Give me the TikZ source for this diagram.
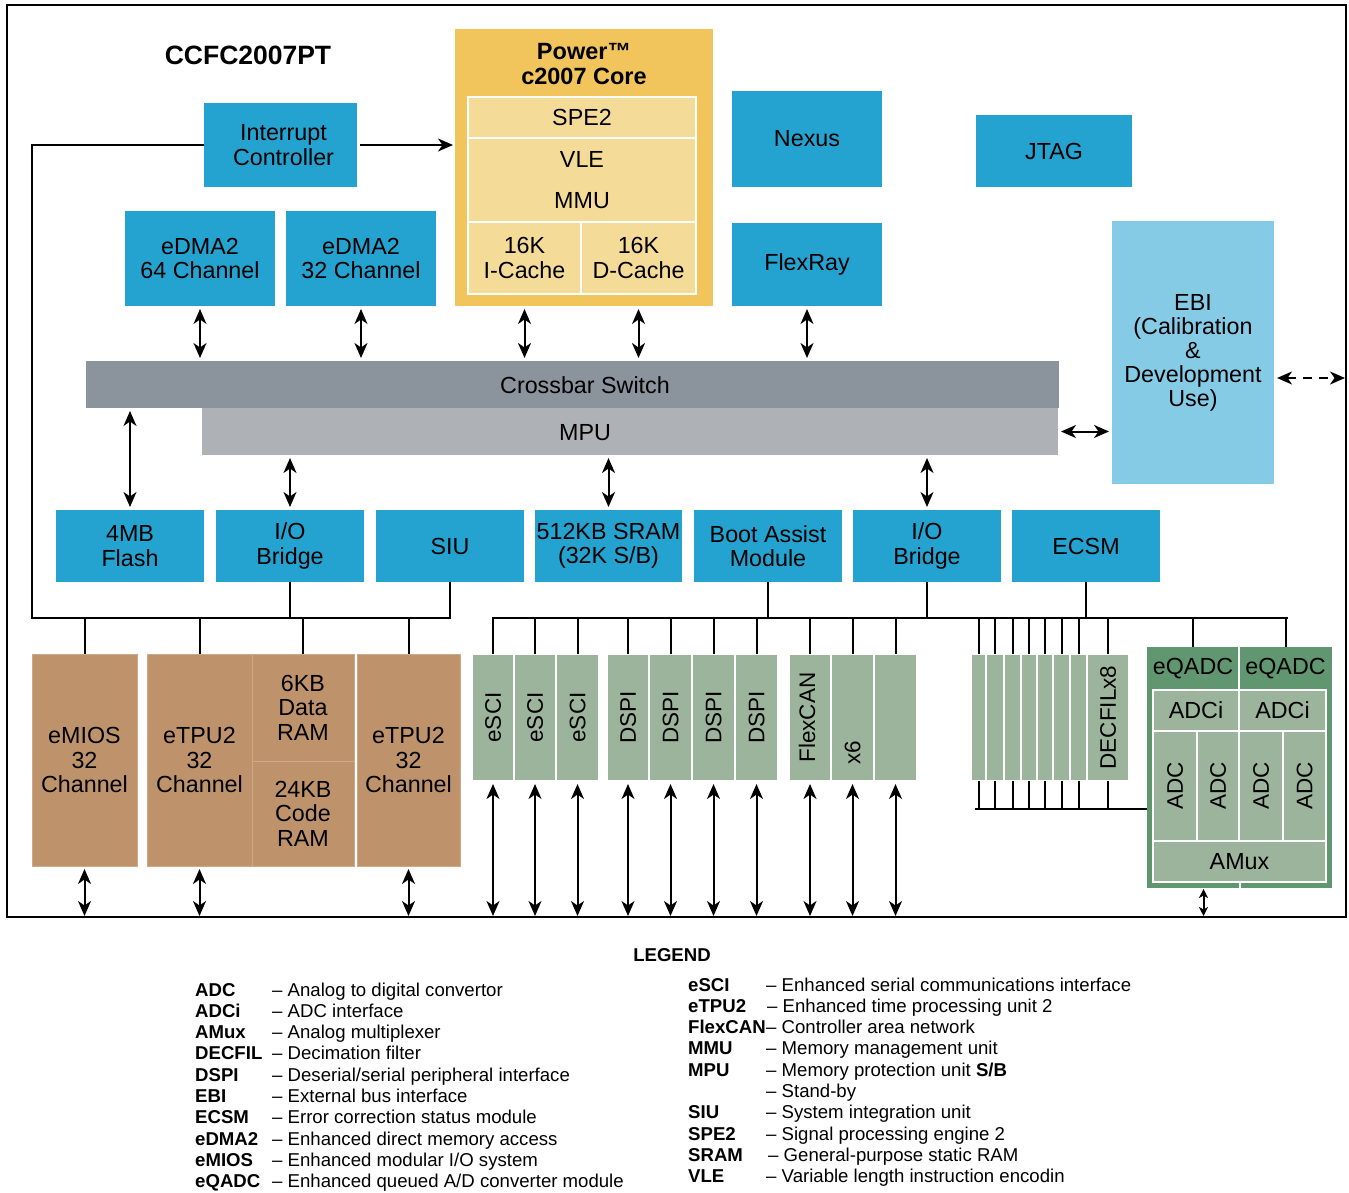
\documentclass[tikz,border=0pt]{standalone}
\usepackage{fontspec}
\setmainfont{Liberation Sans}
\usetikzlibrary{arrows.meta}
\definecolor{cblue}{HTML}{25A3D0}
\definecolor{cebi}{HTML}{86CBE6}
\definecolor{cgold}{HTML}{F2C55C}
\definecolor{ccore}{HTML}{F4DB98}
\definecolor{cxbar}{HTML}{8B939C}
\definecolor{cmpu}{HTML}{AEB1B5}
\definecolor{cbrown}{HTML}{BE936B}
\definecolor{cbrownl}{HTML}{CDA987}
\definecolor{cgreen}{HTML}{9BB49B}
\definecolor{cdgreen}{HTML}{609670}
\newcommand\bx[7]{\node[#6, anchor=north west, minimum width={(#4)-(#2)}, minimum height={(#5)-(#3)}] (#1) at (#2,#3) {#7};}
\newcommand\lgL[2]{\makebox[77pt][l]{\bfseries #1}#2}
\newcommand\lgR[3][78pt]{\makebox[#1][l]{\bfseries #2}#3}
\tikzset{
  basebox/.style={inner sep=0pt, outer sep=0pt, align=center, font=\fontsize{23.3}{24.5}\selectfont},
  bluebox/.style={basebox, fill=cblue},
  ebibox/.style={basebox, fill=cebi, font=\fontsize{23.3}{24}\selectfont},
  corebox/.style={basebox, fill=cgold},
  innerbox/.style={basebox, fill=ccore, draw=white, line width=2pt},
  xbarbox/.style={basebox, fill=cxbar},
  mpubox/.style={basebox, fill=cmpu},
  brownbox/.style={basebox, fill=cbrown, draw=cbrownl, line width=1pt},
  greenbox/.style={basebox, fill=cgreen, draw=white, line width=2.5pt},
  qbox/.style={basebox, fill=cdgreen},
  qin/.style={basebox, fill=cgreen, draw=white, line width=2pt},
  plainbox/.style={basebox},
  rottext/.style={rotate=90, inner sep=0pt, font=\fontsize{22.5}{24}\selectfont},
  ah/.tip={Stealth[length=15pt,width=13pt,inset=4.5pt]},
  sah/.tip={Stealth[length=9pt,width=9pt,inset=2.5pt]},
  dbl/.style={line width=2pt, ah-ah, shorten <=3pt, shorten >=3pt},
  sgl/.style={line width=2pt, -ah, shorten <=3pt, shorten >=2pt},
  bus/.style={line width=2pt},
  wline/.style={draw=white, line width=2pt},
  lg/.style={font=\fontsize{18.6}{21.3}\selectfont, anchor=base west, inner sep=0pt},
}
\begin{document}
\begin{tikzpicture}[x=1pt,y=-1pt]
\useasboundingbox (0,0) rectangle (1349,1193);
% frame
\node[draw, line width=2.4pt, anchor=north west, minimum width=1339, minimum height=912, inner sep=0pt, outer sep=0pt] (frame) at (7,5) {};
\node[inner sep=0pt, font=\fontsize{26.5}{28}\selectfont\bfseries] (title) at (248,55) {CCFC2007PT};

% top blocks
\bx{intc}{204}{103}{357}{187}{bluebox}{\hspace*{6pt}Interrupt\\\hspace*{6pt}Controller}
\bx{edmaA}{125}{211}{275}{306}{bluebox}{eDMA2\\64 Channel}
\bx{edmaB}{286}{211}{436}{306}{bluebox}{eDMA2\\32 Channel}
\bx{core}{455}{29}{713}{306}{corebox}{}
\node[inner sep=0pt, align=center, font=\fontsize{23.5}{24.5}\selectfont\bfseries] (coretitle) at (584,64) {Power™\\c2007 Core};
\bx{spe}{468}{97}{696}{138}{innerbox}{SPE2}
\bx{vlemmu}{468}{138}{696}{222}{innerbox}{VLE\\[16.5pt]MMU}
\bx{icache}{468}{222}{581}{294}{innerbox}{16K\\I-Cache}
\bx{dcache}{581}{222}{696}{294}{innerbox}{16K\\D-Cache}
\bx{nexus}{732}{91}{882}{187}{bluebox}{Nexus}
\bx{flexray}{732}{223}{882}{306}{bluebox}{FlexRay}
\bx{jtag}{976}{115}{1132}{187}{bluebox}{JTAG}
\bx{ebi}{1112}{221}{1274}{484}{ebibox}{EBI\\(Calibration\\\&\\Development\\Use)}

% crossbar / MPU
\bx{xbar}{86}{361}{1059}{408}{xbarbox}{}
\bx{mpu}{202}{408}{1058}{455}{mpubox}{}
\node[basebox] (xbartxt) at (585,385) {Crossbar Switch};
\node[basebox] (mputxt) at (585,433) {MPU};

% second row
\bx{flash}{56}{510}{204}{582}{bluebox}{4MB\\Flash}
\bx{iobA}{216}{510}{364}{582}{bluebox}{I/O\\Bridge}
\bx{siu}{376}{510}{524}{582}{bluebox}{SIU}
\bx{sram}{535}{510}{682}{582}{bluebox}{512KB SRAM\\(32K S/B)}
\bx{boot}{694}{510}{842}{582}{bluebox}{Boot Assist\\Module}
\bx{iobB}{853}{510}{1001}{582}{bluebox}{I/O\\Bridge}
\bx{ecsm}{1012}{510}{1160}{582}{bluebox}{ECSM}

% brown peripherals
\bx{emios}{32}{654}{137}{866}{brownbox}{eMIOS\\32\\Channel}
\bx{etpuA}{147}{654}{252}{866}{brownbox}{eTPU2\\32\\Channel}
\bx{dram}{252}{654}{354}{761}{brownbox}{6KB\\Data\\RAM}
\bx{cram}{252}{761}{354}{866}{brownbox}{24KB\\Code\\RAM}
\bx{etpuB}{357}{654}{460}{866}{brownbox}{eTPU2\\32\\Channel}

% green peripherals
\bx{esciA}{472}{654}{514}{781}{greenbox}{}
\bx{esciB}{514}{654}{556}{781}{greenbox}{}
\bx{esciC}{556}{654}{599}{781}{greenbox}{}
\bx{dspiA}{607}{654}{649}{781}{greenbox}{}
\bx{dspiB}{649}{654}{692}{781}{greenbox}{}
\bx{dspiC}{692}{654}{735}{781}{greenbox}{}
\bx{dspiD}{735}{654}{778}{781}{greenbox}{}
\bx{fcanA}{789}{654}{831}{781}{greenbox}{}
\bx{fcanB}{831}{654}{874}{781}{greenbox}{}
\bx{fcanC}{874}{654}{917}{781}{greenbox}{}
\node[rottext] (tesciA) at (esciA.center) {eSCI};
\node[rottext] (tesciB) at (esciB.center) {eSCI};
\node[rottext] (tesciC) at (esciC.center) {eSCI};
\node[rottext] (tdspiA) at (dspiA.center) {DSPI};
\node[rottext] (tdspiB) at (dspiB.center) {DSPI};
\node[rottext] (tdspiC) at (dspiC.center) {DSPI};
\node[rottext] (tdspiD) at (dspiD.center) {DSPI};
\node[rottext] (tfcan) at ([xshift=-3pt]fcanA.center) {FlexCAN};
\node[rottext] (tx6) at ([yshift=-35.5pt]fcanB.center) {x6};

% decimation filters
\bx{dfA}{971}{654}{986}{781}{greenbox}{}
\bx{dfB}{986}{654}{1004}{781}{greenbox}{}
\bx{dfC}{1004}{654}{1021}{781}{greenbox}{}
\bx{dfD}{1021}{654}{1037}{781}{greenbox}{}
\bx{dfE}{1037}{654}{1053}{781}{greenbox}{}
\bx{dfF}{1053}{654}{1070}{781}{greenbox}{}
\bx{dfG}{1070}{654}{1087}{781}{greenbox}{}
\bx{dfH}{1087}{654}{1129}{781}{greenbox}{}
\node[rottext] (tdfH) at (dfH.center) {DECFILx8};

% eQADC block
\bx{eqadc}{1147}{647}{1332}{888}{qbox}{}
\bx{eqa}{1147}{647}{1239}{690}{plainbox}{eQADC}
\bx{eqb}{1239}{647}{1332}{690}{plainbox}{eQADC}
\bx{adciA}{1153}{690}{1239}{731}{qin}{ADCi}
\bx{adciB}{1239}{690}{1326}{731}{qin}{ADCi}
\bx{adcA}{1153}{731}{1197}{841}{qin}{}
\bx{adcB}{1197}{731}{1239}{841}{qin}{}
\bx{adcC}{1239}{731}{1283}{841}{qin}{}
\bx{adcD}{1283}{731}{1326}{841}{qin}{}
\bx{amux}{1153}{841}{1326}{882}{qin}{AMux}
\node[rottext] (tadcA) at (adcA.center) {ADC};
\node[rottext] (tadcB) at (adcB.center) {ADC};
\node[rottext] (tadcC) at (adcC.center) {ADC};
\node[rottext] (tadcD) at (adcD.center) {ADC};
\draw[wline] (eqa.north east) -- (eqa.south east);
\draw[wline] (amux.south) -- (amux.south |- eqadc.south);

% ---- connectors to crossbar
\draw[dbl] (edmaA.south) -- (edmaA.south |- xbar.north);
\draw[dbl] (edmaB.south) -- (edmaB.south |- xbar.north);
\draw[dbl] (icache.south |- core.south) -- (icache.south |- xbar.north);
\draw[dbl] (dcache.south |- core.south) -- (dcache.south |- xbar.north);
\draw[dbl] (flexray.south) -- (flexray.south |- xbar.north);
\draw[dbl] (flash.north |- xbar.south) -- (flash.north);
\draw[dbl] (iobA.north |- mpu.south) -- (iobA.north);
\draw[dbl] (sram.north |- mpu.south) -- (sram.north);
\draw[dbl] (iobB.north |- mpu.south) -- (iobB.north);
\draw[dbl] (mpu.east) -- (mpu.east -| ebi.west);
\coordinate (ebiio) at (1274,378);
\draw[dbl, dash pattern=on 9pt off 7pt, shorten >=1pt] (ebiio) -- (ebiio -| frame.east);

% interrupt controller
\coordinate (intL) at (32,145);
\coordinate (busL) at (32,618);
\draw[sgl] (intc.east) -- (intc.east -| core.west);
\draw[bus] (intc.west) -- (intL) -- (busL) -- (busL -| siu.south) -- (siu.south);
\draw[bus] (iobA.south) -- (iobA.south |- busL);
\foreach \n in {emios,etpuA,dram,etpuB}
  \draw[bus] (\n.north) -- (\n.north |- busL);
\foreach \n in {emios,etpuA,etpuB}
  \draw[dbl, shorten >=1pt] (\n.south) -- (\n.south |- frame.south);

% right peripheral bus
\coordinate (busR0) at (492,618);
\coordinate (busR1) at (1288,618);
\draw[bus] (busR0) -- (busR1);
\foreach \n in {boot,iobB,ecsm}
  \draw[bus] (\n.south) -- (\n.south |- busR0);
\foreach \n in {esciA,esciB,esciC,dspiA,dspiB,dspiC,dspiD,fcanA,fcanB,fcanC}{
  \draw[bus] (\n.north) -- (\n.north |- busR0);
  \draw[dbl, shorten >=1pt] (\n.south) -- (\n.south |- frame.south);
}
\coordinate (busD) at (975,809);
\draw[bus] (busD) -- (busD -| eqadc.west);
\foreach \n in {dfA,dfB,dfC,dfD,dfE,dfF,dfG,dfH}{
  \draw[bus] (\n.north) -- (\n.north |- busR0);
  \draw[bus] (\n.south) -- (\n.south |- busD);
}
\draw[bus] (eqa.north) -- (eqa.north |- busR0);
\draw[bus] (eqb.north) -- (eqb.north |- busR0);
\coordinate (amuxpin) at ([xshift=-36pt]eqadc.south);
\draw[line width=2pt, sah-sah, shorten <=1pt, shorten >=1pt] (amuxpin) -- (amuxpin |- frame.south);

% ---- legend
\node[inner sep=0pt, anchor=base, font=\fontsize{18.6}{21.3}\selectfont\bfseries] (legend) at (672,961) {LEGEND};
\node[lg] (lA) at (195,996.0) {\lgL{ADC}{– Analog to digital convertor}};
\node[lg] (lB) at (195,1017.3) {\lgL{ADCi}{– ADC interface}};
\node[lg] (lC) at (195,1038.6) {\lgL{AMux}{– Analog multiplexer}};
\node[lg] (lD) at (195,1059.9) {\lgL{DECFIL}{– Decimation filter}};
\node[lg] (lE) at (195,1081.2) {\lgL{DSPI}{– Deserial/serial peripheral interface}};
\node[lg] (lF) at (195,1102.5) {\lgL{EBI}{– External bus interface}};
\node[lg] (lG) at (195,1123.8) {\lgL{ECSM}{– Error correction status module}};
\node[lg] (lH) at (195,1145.1) {\lgL{eDMA2}{– Enhanced direct memory access}};
\node[lg] (lI) at (195,1166.4) {\lgL{eMIOS}{– Enhanced modular I/O system}};
\node[lg] (lJ) at (195,1187.7) {\lgL{eQADC}{– Enhanced queued A/D converter module}};
\node[lg] (rA) at (688,991.0) {\lgR{eSCI}{– Enhanced serial communications interface}};
\node[lg] (rB) at (688,1012.3) {\lgR[79pt]{eTPU2}{– Enhanced time processing unit 2}};
\node[lg] (rC) at (688,1033.6) {\lgR{FlexCAN}{– Controller area network}};
\node[lg] (rD) at (688,1054.9) {\lgR{MMU}{– Memory management unit}};
\node[lg] (rE) at (688,1076.2) {\lgR{MPU}{– Memory protection unit \textbf{S/B}}};
\node[lg] (rF) at (688,1097.5) {\lgR{}{– Stand-by}};
\node[lg] (rG) at (688,1118.8) {\lgR{SIU}{– System integration unit}};
\node[lg] (rH) at (688,1140.1) {\lgR{SPE2}{– Signal processing engine 2}};
\node[lg] (rI) at (688,1161.4) {\lgR[80pt]{SRAM}{– General-purpose static RAM}};
\node[lg] (rJ) at (688,1182.7) {\lgR{VLE}{– Variable length instruction encodin}};
\end{tikzpicture}
\end{document}
